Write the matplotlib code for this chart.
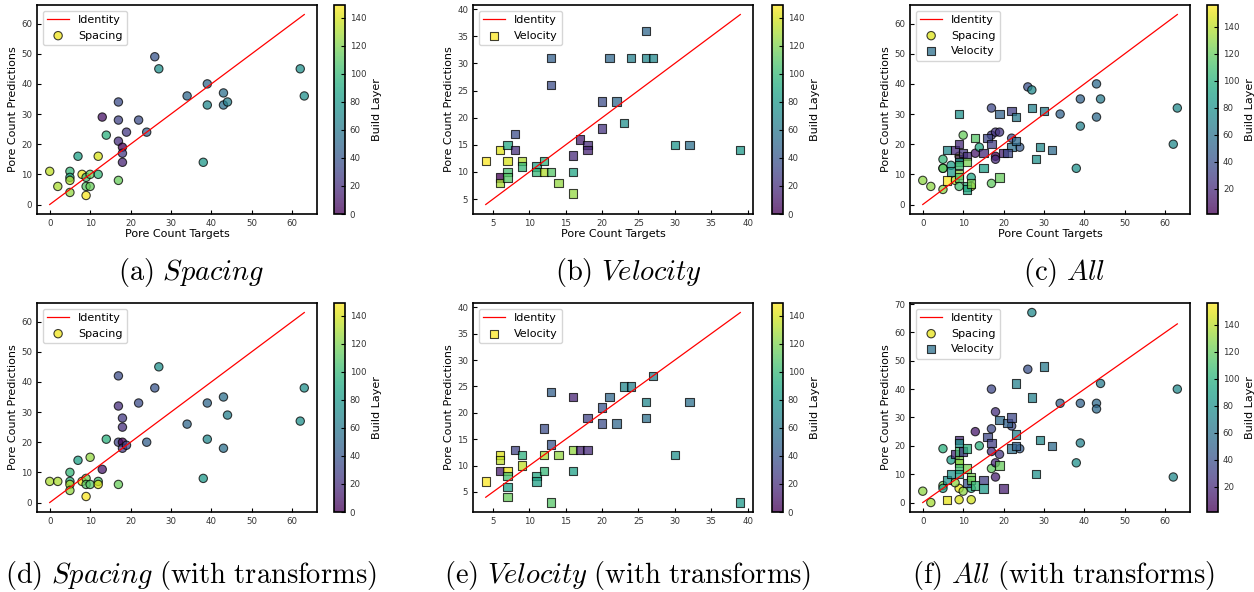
import matplotlib

matplotlib.use("Agg")

import matplotlib.pyplot as plt

plt.rcParams["mathtext.fontset"] = "cm"

# (a) Spacing
a_targets = [8, 0, 2, 5, 5, 5, 5, 7, 9, 9, 9, 10, 10, 12, 12, 13, 14, 17, 17, 17, 17, 18, 18, 18, 19, 22, 24, 26, 27, 34, 38, 39, 39, 43, 43, 44, 62, 63]
a_preds = [10, 11, 6, 11, 9, 8, 4, 16, 9, 6, 3, 10, 6, 16, 10, 29, 23, 34, 28, 21, 8, 19, 17, 14, 24, 28, 24, 49, 45, 36, 14, 40, 33, 37, 33, 34, 45, 36]
a_layers = [145, 135, 130, 100, 90, 130, 125, 85, 105, 110, 148, 115, 115, 140, 100, 8, 95, 35, 30, 20, 115, 0, 25, 15, 25, 35, 45, 40, 75, 50, 80, 50, 70, 55, 55, 65, 75, 75]

# (b) Velocity
b_targets = [4, 6, 6, 6, 7, 7, 7, 7, 8, 8, 9, 9, 11, 11, 12, 12, 13, 13, 13, 14, 16, 16, 16, 17, 18, 18, 20, 20, 21, 22, 23, 24, 26, 26, 27, 30, 32, 39]
b_preds = [12, 9, 8, 14, 15, 12, 10, 9, 17, 14, 12, 11, 11, 10, 12, 10, 10, 31, 26, 8, 13, 10, 6, 16, 15, 14, 18, 23, 31, 23, 19, 31, 36, 31, 31, 15, 15, 14]
b_layers = [148, 0, 130, 142, 90, 140, 105, 110, 35, 20, 132, 100, 85, 100, 95, 132, 110, 45, 35, 125, 18, 88, 125, 12, 18, 15, 22, 35, 50, 50, 75, 65, 50, 70, 70, 78, 55, 80]

# (c) All
c_spacing_targets = [9, 0, 2, 5, 5, 5, 5, 7, 8, 9, 10, 12, 12, 13, 14, 17, 17, 17, 18, 18, 18, 19, 22, 24, 26, 27, 34, 38, 39, 39, 43, 43, 44, 62, 63]
c_spacing_preds = [16, 8, 6, 15, 12, 12, 5, 13, 8, 6, 23, 9, 6, 17, 19, 32, 23, 7, 24, 16, 15, 24, 22, 19, 39, 38, 30, 12, 35, 26, 40, 29, 35, 20, 32]
c_spacing_layers = [148, 130, 130, 105, 125, 115, 130, 88, 140, 110, 120, 92, 145, 12, 95, 35, 28, 118, 25, 1.4, 20, 25, 35, 45, 40, 75, 50, 80, 50, 70, 55, 55, 65, 75, 75]
c_velocity_targets = [22, 6, 6, 7, 8, 9, 9, 9, 9, 9, 9, 9, 10, 11, 11, 11, 11, 12, 13, 15, 15, 16, 17, 19, 19, 20, 21, 22, 23, 23, 27, 28, 29, 30, 32]
c_velocity_preds = [19, 18, 8, 11, 18, 30, 20, 15, 14, 13, 10, 9, 17, 16, 14, 6, 5, 7, 22, 12, 17, 22, 20, 9, 30, 17, 17, 31, 29, 21, 32, 15, 19, 31, 18]
c_velocity_layers = [58, 75, 156, 85, 20, 80, 20, 15, 85, 110, 130, 115, 25, 22, 125, 100, 95, 125, 115, 88, 20, 35, 30, 120, 50, 15, 35, 30, 65, 55, 70, 80, 75, 65, 55]

# (d) Spacing (with transforms)
d_targets = [8, 0, 2, 5, 5, 5, 5, 7, 9, 9, 9, 10, 10, 12, 12, 13, 14, 17, 17, 17, 17, 18, 18, 18, 18, 19, 22, 24, 26, 27, 34, 38, 39, 39, 43, 43, 44, 62, 63]
d_preds = [7, 7, 7, 10, 7, 6, 4, 14, 8, 6, 2, 15, 6, 7, 6, 11, 21, 42, 32, 20, 6, 20, 18, 25, 28, 19, 33, 20, 38, 45, 26, 8, 33, 21, 35, 18, 29, 27, 38]
d_layers = [145, 130, 130, 100, 95, 130, 125, 85, 118, 110, 148, 125, 110, 105, 140, 10, 95, 35, 20, 30, 115, 0, 25, 20, 25, 30, 35, 45, 40, 75, 50, 80, 50, 70, 55, 55, 65, 75, 75]

# (e) Velocity (with transforms)
e_targets = [4, 6, 6, 6, 7, 7, 7, 7, 8, 9, 9, 11, 11, 12, 12, 12, 13, 13, 13, 14, 16, 16, 16, 17, 18, 18, 20, 20, 21, 22, 23, 24, 26, 26, 27, 30, 32, 39]
e_preds = [7, 12, 11, 9, 9, 8, 6, 4, 13, 12, 10, 8, 7, 17, 12, 9, 24, 14, 3, 12, 23, 13, 9, 13, 13, 19, 21, 18, 23, 18, 25, 25, 22, 19, 27, 12, 22, 3]
e_layers = [148, 142, 135, 12, 145, 105, 85, 115, 30, 95, 135, 90, 85, 35, 130, 100, 45, 40, 110, 125, 15, 125, 85, 15, 18, 30, 40, 35, 50, 50, 70, 65, 70, 55, 65, 75, 55, 80]

# (f) All (with transforms)
f_spacing_targets = [9, 0, 2, 5, 5, 5, 7, 8, 9, 10, 12, 12, 13, 14, 17, 17, 17, 17, 18, 18, 18, 19, 22, 24, 26, 27, 34, 38, 39, 39, 43, 43, 44, 62, 63]
f_spacing_preds = [5, 4, 0, 19, 6, 5, 15, 7, 1, 4, 1, 5, 25, 20, 40, 26, 18, 12, 32, 14, 9, 17, 27, 19, 47, 67, 35, 14, 35, 21, 35, 33, 42, 9, 40]
f_spacing_layers = [150, 130, 135, 100, 125, 90, 88, 130, 148, 130, 145, 95, 12, 100, 35, 35, 20, 118, 22, 18, 15, 25, 35, 45, 40, 75, 50, 80, 50, 70, 55, 55, 65, 75, 75]
f_velocity_targets = [22, 6, 6, 7, 8, 9, 9, 9, 9, 9, 9, 9, 10, 11, 11, 11, 12, 12, 13, 15, 15, 16, 17, 19, 19, 20, 21, 22, 23, 23, 23, 27, 28, 29, 30, 32]
f_velocity_preds = [19, 1, 8, 10, 17, 22, 21, 18, 15, 14, 12, 10, 18, 19, 12, 7, 9, 8, 6, 8, 5, 23, 21, 13, 29, 5, 28, 30, 24, 20, 42, 37, 10, 22, 48, 20]
f_velocity_layers = [58, 150, 80, 80, 20, 20, 80, 110, 125, 130, 110, 90, 25, 100, 125, 40, 125, 120, 105, 30, 85, 35, 30, 120, 55, 15, 50, 35, 70, 50, 70, 70, 80, 75, 65, 55]

captions = [
    r"$\mathrm{(a)}\ \mathit{Spacing}$",
    r"$\mathrm{(b)}\ \mathit{Velocity}$",
    r"$\mathrm{(c)}\ \mathit{All}$",
    r"$\mathrm{(d)}\ \mathit{Spacing}\ \mathrm{(with\ transforms)}$",
    r"$\mathrm{(e)}\ \mathit{Velocity}\ \mathrm{(with\ transforms)}$",
    r"$\mathrm{(f)}\ \mathit{All}\ \mathrm{(with\ transforms)}$",
]

SINGLE_RANGE = (0, 149)
ALL_RANGE = (1.4, 156)

fig = plt.figure(figsize=(12.54, 5.92), dpi=100)

col_left = [0.0295, 0.3772, 0.7257]
col_cbar = [0.2663, 0.6156, 0.9625]
row_bottom = [0.6385, 0.1351]
AX_W, CB_W, AX_H = 0.2233, 0.0088, 0.353
caption_y = [0.5405, 0.0287]


def draw_panel(row, col, series, layer_range, show_xlabel):
    ax = fig.add_axes([col_left[col], row_bottom[row], AX_W, AX_H])
    cax = fig.add_axes([col_cbar[col], row_bottom[row], CB_W, AX_H])

    all_targets = [t for s in series for t in s[2]]
    lo, hi = min(all_targets), max(all_targets)
    ax.plot([lo, hi], [lo, hi], color="red", lw=0.9, label="Identity")

    mappable = None
    for name, marker, targets, preds, layers in series:
        sc = ax.scatter(targets, preds, c=layers, cmap="viridis",
                        vmin=layer_range[0], vmax=layer_range[1],
                        marker=marker, s=36, alpha=0.75,
                        edgecolors="k", linewidths=0.8, label=name)
        if mappable is None:
            mappable = sc

    ax.legend(loc="upper left", fontsize=8, handlelength=2.0,
              borderpad=0.4, labelspacing=0.5)
    ax.tick_params(direction="in", labelsize=6.2, length=3, labelcolor="#333333")
    for sp in ax.spines.values():
        sp.set_linewidth(1.2)
    if show_xlabel:
        ax.set_xlabel("Pore Count Targets", fontsize=8, labelpad=1)
    ax.set_ylabel("Pore Count Predictions", fontsize=8, labelpad=2)

    cb = fig.colorbar(mappable, cax=cax)
    cb.set_label("Build Layer", fontsize=8)
    cb.ax.tick_params(direction="in", labelsize=6.2, length=3, labelcolor="#333333")
    cb.outline.set_linewidth(1.2)

    idx = row * 3 + col
    cx = (col_left[col] + col_cbar[col] + CB_W) / 2
    fig.text(cx, caption_y[row], captions[idx], ha="center", va="center", fontsize=20.5)


draw_panel(0, 0, [("Spacing", "o", a_targets, a_preds, a_layers)], SINGLE_RANGE, True)
draw_panel(0, 1, [("Velocity", "s", b_targets, b_preds, b_layers)], SINGLE_RANGE, True)
draw_panel(0, 2, [("Spacing", "o", c_spacing_targets, c_spacing_preds, c_spacing_layers),
                  ("Velocity", "s", c_velocity_targets, c_velocity_preds, c_velocity_layers)], ALL_RANGE, True)
draw_panel(1, 0, [("Spacing", "o", d_targets, d_preds, d_layers)], SINGLE_RANGE, False)
draw_panel(1, 1, [("Velocity", "s", e_targets, e_preds, e_layers)], SINGLE_RANGE, False)
draw_panel(1, 2, [("Spacing", "o", f_spacing_targets, f_spacing_preds, f_spacing_layers),
                  ("Velocity", "s", f_velocity_targets, f_velocity_preds, f_velocity_layers)], ALL_RANGE, False)

fig.savefig("out.png", dpi=100)
